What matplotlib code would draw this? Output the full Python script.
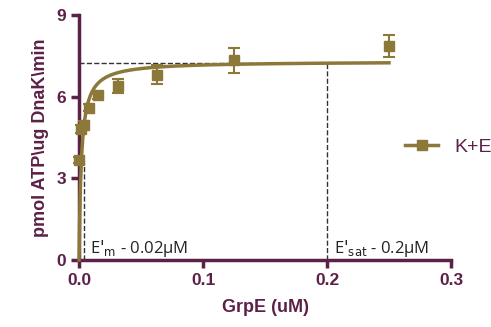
import numpy as np
import matplotlib.pyplot as plt

plt.rcParams['font.family'] = ['Liberation Sans', 'DejaVu Sans']

# GrpE concentration (uM) and ATPase rate
grpe = [0.0, 0.00195, 0.0039, 0.0078, 0.0156, 0.03125, 0.0625, 0.125, 0.25]
rate = [3.67, 4.82, 4.95, 5.6, 6.05, 6.4, 6.8, 7.33, 7.85]
err = [0.1, 0.15, 0.15, 0.12, 0.12, 0.25, 0.35, 0.45, 0.4]

# hyperbolic fit parameters
vmax = 7.3
km = 0.0019

olive = '#8c7838'
purple = '#5c2146'

fig = plt.figure(figsize=(4.91, 3.27), dpi=100)
ax = fig.add_axes([0.161, 0.205, 0.7575, 0.749])

xfit = np.linspace(0, 0.25, 600)
yfit = vmax * xfit / (km + xfit)
ax.plot(xfit, yfit, color=olive, lw=2.5, clip_on=False, zorder=3)
ax.errorbar(grpe, rate, yerr=err, fmt='s', color=olive, ms=7, capsize=4,
            elinewidth=1.5, capthick=1.5, clip_on=False, zorder=4)

# guide lines
ax.plot([0, 0.2], [7.25, 7.25], ls='--', color='#333333', lw=1, zorder=2)
ax.plot([0.2, 0.2], [0, 7.25], ls='--', color='#333333', lw=1, zorder=2)
ax.plot([0.0042, 0.0042], [0, 3.55], ls='--', color='#333333', lw=1, zorder=2)

ax.text(0.009, 0.25, "E$'_{\\mathrm{m}}$ - 0.02\u03bcM", fontsize=12, color='#222222',
        family='Open Sans')
ax.text(0.206, 0.25, "E$'_{\\mathrm{sat}}$ - 0.2\u03bcM", fontsize=12, color='#222222',
        family='Open Sans')

ax.set_xlim(0, 0.3)
ax.set_ylim(0, 9)
ax.set_xticks([0.0, 0.1, 0.2, 0.3])
ax.set_xticklabels(['0.0', '0.1', '0.2', '0.3'])
ax.set_yticks([0, 3, 6, 9])
for s in ['top', 'right']:
    ax.spines[s].set_visible(False)
for s in ['left', 'bottom']:
    ax.spines[s].set_color(purple)
    ax.spines[s].set_linewidth(2.5)
ax.tick_params(colors=purple, width=2.5, length=6, labelsize=12.5)
for lab in ax.get_xticklabels() + ax.get_yticklabels():
    lab.set_fontweight('bold')
ax.set_xlabel('GrpE (uM)', color=purple, fontsize=13, fontweight='bold', labelpad=8)
ax.set_ylabel('pmol ATP\\ug DnaK\\min', color=purple, fontsize=13, fontweight='bold', labelpad=5)

h = ax.plot([], [], color=olive, lw=2.5, marker='s', ms=7)[0]
leg = fig.legend([h], ['K+E'], loc='center left', bbox_to_anchor=(0.79, 0.55),
                 frameon=False, fontsize=14, handlelength=1.7, handletextpad=0.8)
for t in leg.get_texts():
    t.set_color(purple)

plt.savefig('out.png', dpi=100)
